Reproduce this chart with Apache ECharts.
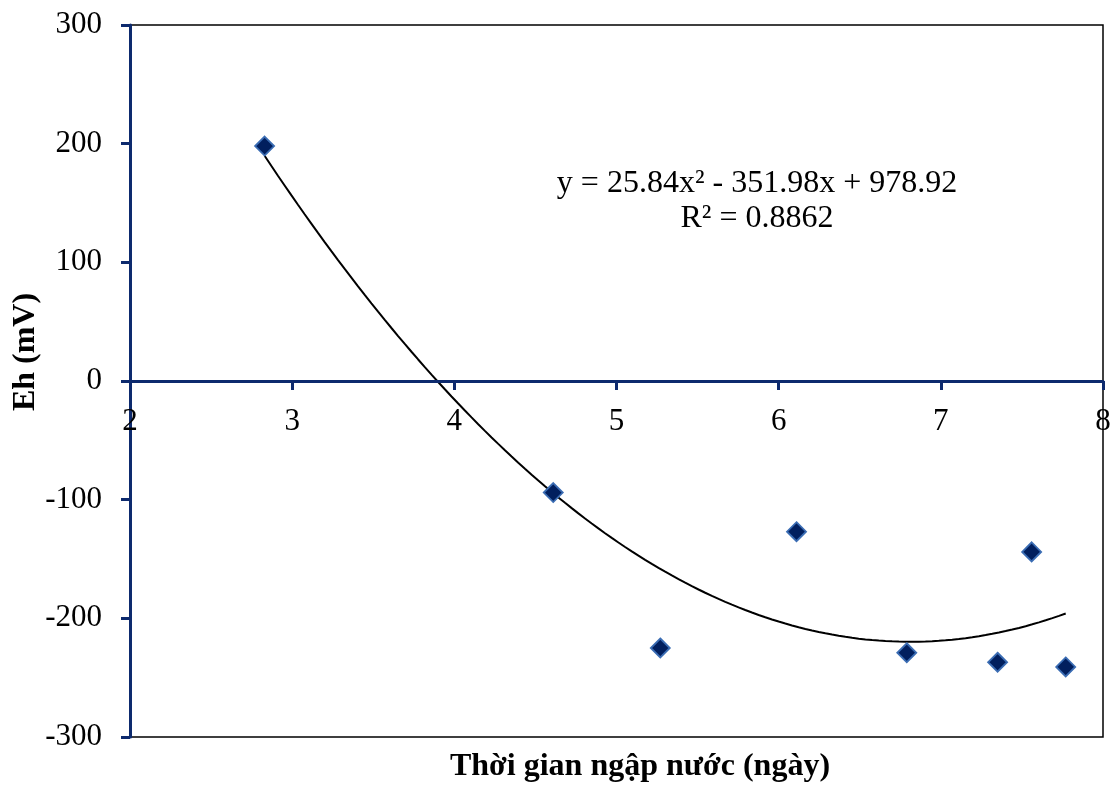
<!DOCTYPE html>
<html>
<head>
<meta charset="utf-8">
<title>Eh theo thời gian ngập nước</title>
<script src="https://cdn.jsdelivr.net/npm/echarts@6/dist/echarts.min.js"></script>
<style>
  html, body { margin: 0; padding: 0; background: #ffffff; }
  #chart { width: 1116px; height: 785px; }
</style>
</head>
<body>
<div id="chart"></div>
<script>
// Measured points: flooding time (days) and redox potential Eh (mV)
const floodDays = [2.83, 4.61, 5.27, 6.11, 6.79, 7.35, 7.56, 7.77];
const ehValues  = [198, -94, -225, -127, -229, -237, -144, -241];

// Quadratic trendline coefficients, as printed on the chart: y = a x^2 + b x + c
const trendA = 25.84;
const trendB = -351.98;
const trendC = 978.92;
const trendR2 = 0.8862;

// Axis tick settings
const xTicks = { min: 2, max: 8, interval: 1 };
const yTicks = { min: -300, max: 300, interval: 100 };

const FONT = "'Liberation Serif', 'Times New Roman', serif";
const NAVY = '#0d2a6e';

const GRID = { left: 130, right: 13, top: 25, bottom: 48 };
const CHART_H = 785;
const gridHeight = CHART_H - GRID.top - GRID.bottom;
// Pixel distance from the bottom of the plot up to y = 0, so the x axis
// (line, ticks and labels together) sits on the zero line
const zeroOffset = gridHeight * (0 - yTicks.min) / (yTicks.max - yTicks.min);

const scatterData = floodDays.map((x, i) => [x, ehValues[i]]);

// Trendline spans the range of the measured data
const xStart = Math.min(...floodDays);
const xEnd = Math.max(...floodDays);
const trendData = [];
const steps = 120;
for (let i = 0; i <= steps; i++) {
  const x = xStart + (xEnd - xStart) * i / steps;
  trendData.push([x, trendA * x * x + trendB * x + trendC]);
}

const equationText =
  'y = ' + trendA.toFixed(2) + 'x\u00b2 - ' + Math.abs(trendB).toFixed(2) +
  'x + ' + trendC.toFixed(2) + '\nR\u00b2 = ' + trendR2.toFixed(4);

const chart = echarts.init(document.getElementById('chart'), null, { renderer: 'canvas' });

chart.setOption({
  animation: false,
  backgroundColor: '#ffffff',
  grid: {
    left: GRID.left, right: GRID.right, top: GRID.top, bottom: GRID.bottom,
    show: true,
    borderColor: '#000000',
    borderWidth: 1.5,
    backgroundColor: 'transparent'
  },
  xAxis: {
    type: 'value',
    position: 'bottom',
    offset: -zeroOffset,
    min: xTicks.min, max: xTicks.max, interval: xTicks.interval,
    axisLine: { show: true, onZero: false, lineStyle: { color: NAVY, width: 3 } },
    axisTick: { show: true, inside: false, length: 9, lineStyle: { color: NAVY, width: 3 } },
    axisLabel: {
      color: '#000000', fontFamily: FONT, fontSize: 31, margin: 25,
      showMinLabel: true, showMaxLabel: true
    },
    splitLine: { show: false },
    z: 5
  },
  yAxis: {
    type: 'value',
    min: yTicks.min, max: yTicks.max, interval: yTicks.interval,
    axisLine: { show: true, onZero: false, lineStyle: { color: NAVY, width: 3 } },
    axisTick: { show: true, inside: false, length: 9, lineStyle: { color: NAVY, width: 3 } },
    axisLabel: { color: '#000000', fontFamily: FONT, fontSize: 31, margin: 28 },
    splitLine: { show: false }
  },
  graphic: [
    {
      type: 'text',
      style: {
        text: 'Thời gian ngập nước (ngày)',
        x: 640, y: 767,
        align: 'center', verticalAlign: 'middle',
        font: 'bold 32px ' + FONT,
        fill: '#000000'
      }
    },
    {
      type: 'text',
      x: 26, y: 352,
      rotation: Math.PI / 2,
      style: {
        text: 'Eh (mV)',
        x: 0, y: 0,
        align: 'center', verticalAlign: 'middle',
        font: 'bold 32px ' + FONT,
        fill: '#000000'
      }
    },
    {
      type: 'text',
      style: {
        text: equationText,
        x: 757, y: 201,
        align: 'center', verticalAlign: 'middle',
        font: '32px ' + FONT,
        lineHeight: 35,
        fill: '#000000'
      }
    }
  ],
  series: [
    {
      type: 'line',
      data: trendData,
      showSymbol: false,
      smooth: false,
      lineStyle: { color: '#000000', width: 2 },
      z: 2
    },
    {
      type: 'scatter',
      data: scatterData,
      symbol: 'diamond',
      symbolSize: 19,
      itemStyle: { color: '#011f5e', borderColor: '#3a6cb3', borderWidth: 1.8, opacity: 1 },
      z: 3
    }
  ]
});
</script>
</body>
</html>
